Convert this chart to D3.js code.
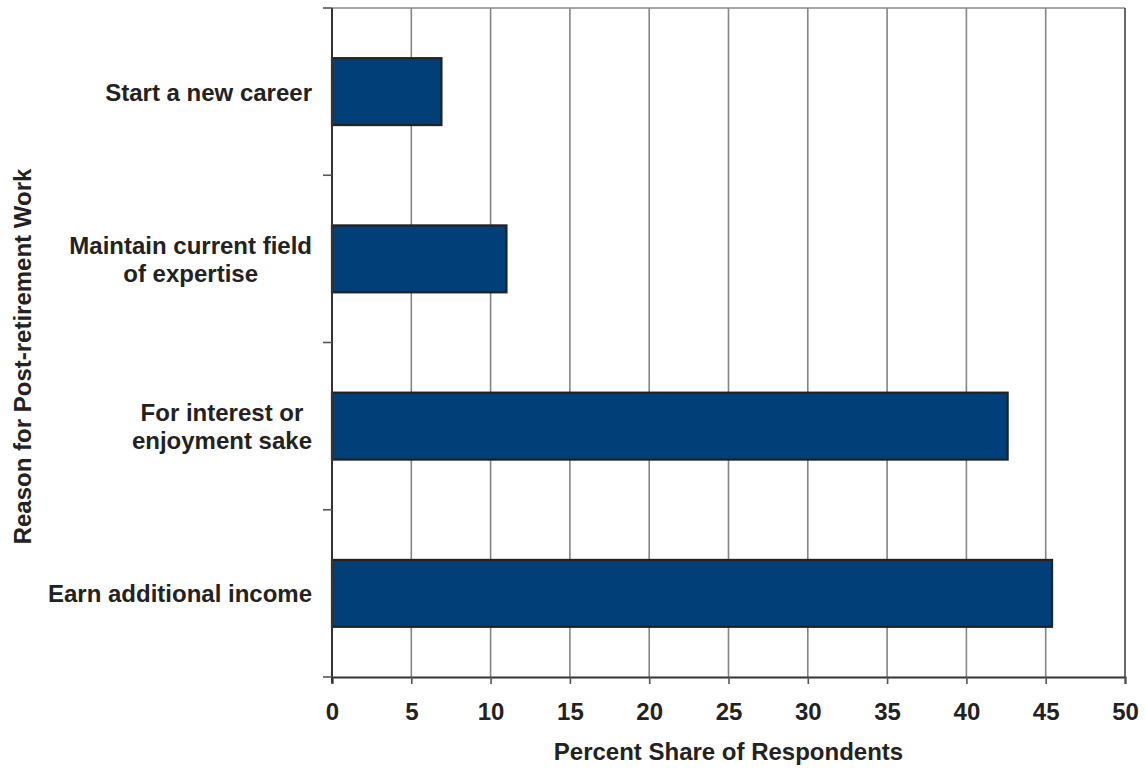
<!DOCTYPE html>
<html>
<head>
<meta charset="utf-8">
<script src="https://cdn.jsdelivr.net/npm/d3@7"></script>
<style>
  html, body { margin: 0; padding: 0; background: #fff; }
  svg { display: block; }
  text { font-family: "Liberation Sans", Arial, Helvetica, sans-serif; font-weight: bold; fill: #222; }
</style>
</head>
<body>
<svg id="chart" width="1145" height="770"></svg>
<script>
// Reasons for post-retirement work, listed bottom to top as drawn
const categories = [
  ["Earn additional income"],
  ["For interest or", "enjoyment sake"],
  ["Maintain current field", "of expertise"],
  ["Start a new career"]
];
const shares = [45.4, 42.6, 11.0, 6.9];
const xTicks = [0, 5, 10, 15, 20, 25, 30, 35, 40, 45, 50];
const xTitle = "Percent Share of Respondents";
const yTitle = "Reason for Post-retirement Work";

const svg = d3.select("#chart");
const plotLeft = 332, plotRight = 1125, plotTop = 8, plotBottom = 677;
const fs = 24;

const x = d3.scaleLinear().domain([0, 50]).range([plotLeft, plotRight]);
const keys = categories.map((c, i) => i);
const y = d3.scaleBand().domain(keys.slice().reverse()).range([plotTop, plotBottom]).paddingInner(0.6).paddingOuter(0.3);
const yBand = d3.scaleBand().domain(keys.slice().reverse()).range([plotTop, plotBottom]);

// vertical gridlines
svg.append("g").selectAll("line").data(xTicks.slice(1, -1)).join("line")
  .attr("x1", d => x(d)).attr("x2", d => x(d))
  .attr("y1", plotTop).attr("y2", plotBottom)
  .attr("stroke", "#858585").attr("stroke-width", 1.6);

// top border
svg.append("line").attr("x1", plotLeft).attr("x2", plotRight).attr("y1", plotTop).attr("y2", plotTop)
  .attr("stroke", "#8a8a8a").attr("stroke-width", 1.6);
// right border
svg.append("line").attr("x1", plotRight).attr("x2", plotRight).attr("y1", plotTop).attr("y2", plotBottom)
  .attr("stroke", "#444").attr("stroke-width", 1.6);

// bars
svg.append("g").selectAll("rect").data(shares).join("rect")
  .attr("x", x(0))
  .attr("y", (d, i) => y(i))
  .attr("width", d => x(d) - x(0))
  .attr("height", y.bandwidth())
  .attr("fill", "#003f77")
  .attr("stroke", "#222")
  .attr("stroke-width", 2.2);

// x axis
const xAxis = svg.append("g").attr("transform", `translate(0,${plotBottom})`)
  .call(d3.axisBottom(x).tickValues(xTicks).tickSize(7).tickPadding(19).tickFormat(d3.format("d")));
xAxis.select(".domain").attr("stroke", "#333").attr("stroke-width", 2);
xAxis.selectAll(".tick line").attr("stroke", "#555").attr("stroke-width", 1.6);
xAxis.selectAll(".tick text").style("font-size", fs + "px").attr("fill", "#222")
  .style("font-family", "'Liberation Sans', Arial, sans-serif").style("font-weight", "bold");

// y axis with ticks at category boundaries
const bounds = [plotTop].concat(keys.map(k => yBand(k) + yBand.bandwidth()));
svg.append("line").attr("x1", plotLeft).attr("x2", plotLeft).attr("y1", plotTop).attr("y2", plotBottom + 6)
  .attr("stroke", "#333").attr("stroke-width", 2);
svg.append("g").selectAll("line").data(bounds).join("line")
  .attr("x1", plotLeft - 9).attr("x2", plotLeft)
  .attr("y1", d => d).attr("y2", d => d)
  .attr("stroke", "#555").attr("stroke-width", 1.6);

// category labels: lines centred within a block that ends near the axis
const labelRight = 312;
const lh = 28;
categories.forEach((lines, i) => {
  const g = svg.append("g");
  const cy = y(i) + y.bandwidth() / 2;
  const texts = lines.map((ln, j) => g.append("text")
    .attr("text-anchor", "middle")
    .style("font-size", fs + "px")
    .attr("y", cy + (j - (lines.length - 1) / 2) * lh + fs * 0.38)
    .text(ln));
  const w = d3.max(texts, t => t.node().getComputedTextLength());
  texts.forEach(t => t.attr("x", labelRight - w / 2));
});

// axis titles
svg.append("text").attr("x", (plotLeft + plotRight) / 2).attr("y", 760)
  .attr("text-anchor", "middle").style("font-size", fs + "px").text(xTitle);
svg.append("text")
  .attr("transform", `translate(31,${(plotTop + plotBottom) / 2 + 14}) rotate(-90)`)
  .attr("text-anchor", "middle").style("font-size", fs + "px").text(yTitle);
</script>
</body>
</html>
